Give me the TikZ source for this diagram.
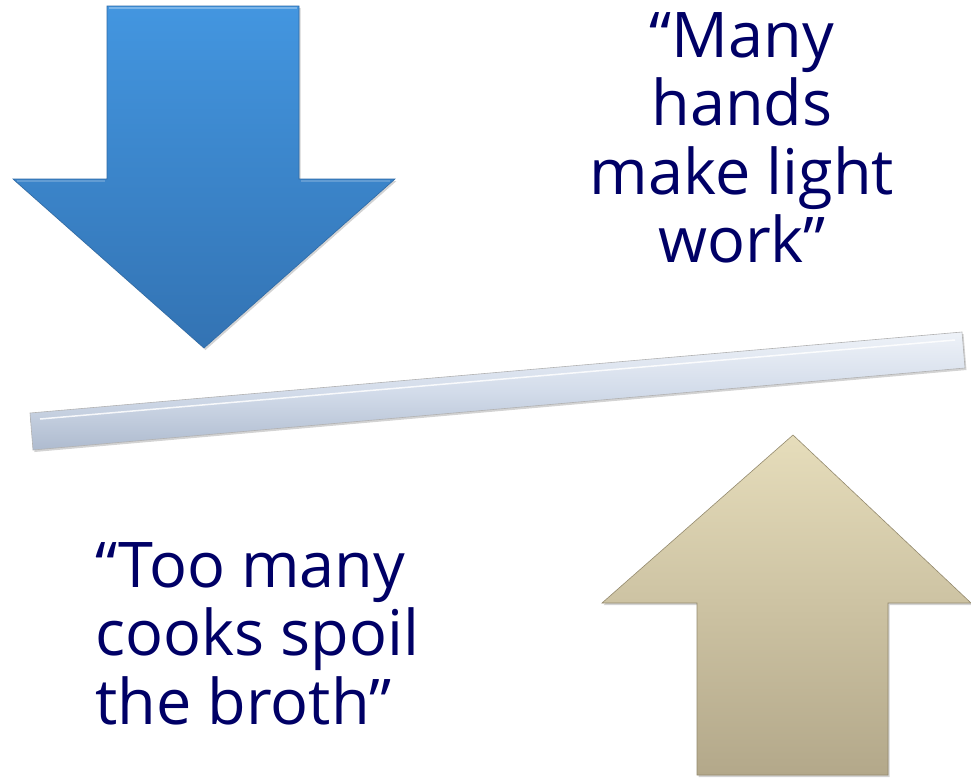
\documentclass[tikz,border=0pt]{standalone}
\usepackage{fontspec}
\setmainfont{Open Sans}
\usetikzlibrary{shadows}
\definecolor{navy}{HTML}{000066}
\definecolor{blueTop}{HTML}{4396E0}
\definecolor{blueBot}{HTML}{3373B3}
\definecolor{blueEdge}{HTML}{2E6AA6}
\definecolor{tanTop}{HTML}{E6DDBB}
\definecolor{tanBot}{HTML}{B3A88A}
\definecolor{tanEdge}{HTML}{948A6E}
\definecolor{barTop}{HTML}{EEF2F8}
\definecolor{barMid}{HTML}{D3DCEA}
\definecolor{barBot}{HTML}{AEBBCF}
\tikzset{
  quote/.style={text=navy, font=\fontsize{63}{68.5}\selectfont, inner sep=0pt},
  shshadow/.style={drop shadow={opacity=0.35, shadow xshift=1.5pt, shadow yshift=-2pt}},
}
\begin{document}
\begin{tikzpicture}[x=1pt,y=-1pt]
\useasboundingbox (0,0) rectangle (971,779);
% blue down arrow
\shade[top color=blueTop, bottom color=blueBot, draw=blueEdge, line width=0.6pt, shshadow]
  (107,6) -- (299,6) -- (299,179) -- (395,179) -- (204,348) -- (13,179) -- (107,179) -- cycle;
\draw[white, opacity=0.3, line width=1.5pt] (109,8) -- (297,8);
\draw[white, opacity=0.2, line width=1.5pt] (17,181) -- (105,181);
\draw[white, opacity=0.2, line width=1.5pt] (301,181) -- (390,181);
% bar
\shade[top color=barTop, bottom color=barBot, middle color=barMid, draw=gray!60, line width=0.6pt, shshadow]
  (30,413) -- (962,332) -- (965,368) -- (33,450) -- cycle;
\draw[white, opacity=0.85, line width=1.5pt] (40,419) -- (955,340);
% tan up arrow
\shade[top color=tanTop, bottom color=tanBot, draw=tanEdge, line width=0.6pt, shshadow]
  (793,435) -- (971,603) -- (888,603) -- (888,775) -- (697,775) -- (697,603) -- (602,603) -- cycle;
% texts
\node[quote, align=center, anchor=north] (many) at (742,12) {“Many\\hands\\make light\\work”};
\node[quote, align=left, anchor=north west] (cooks) at (95,542) {“Too many\\cooks spoil\\the broth”};
\end{tikzpicture}
\end{document}
